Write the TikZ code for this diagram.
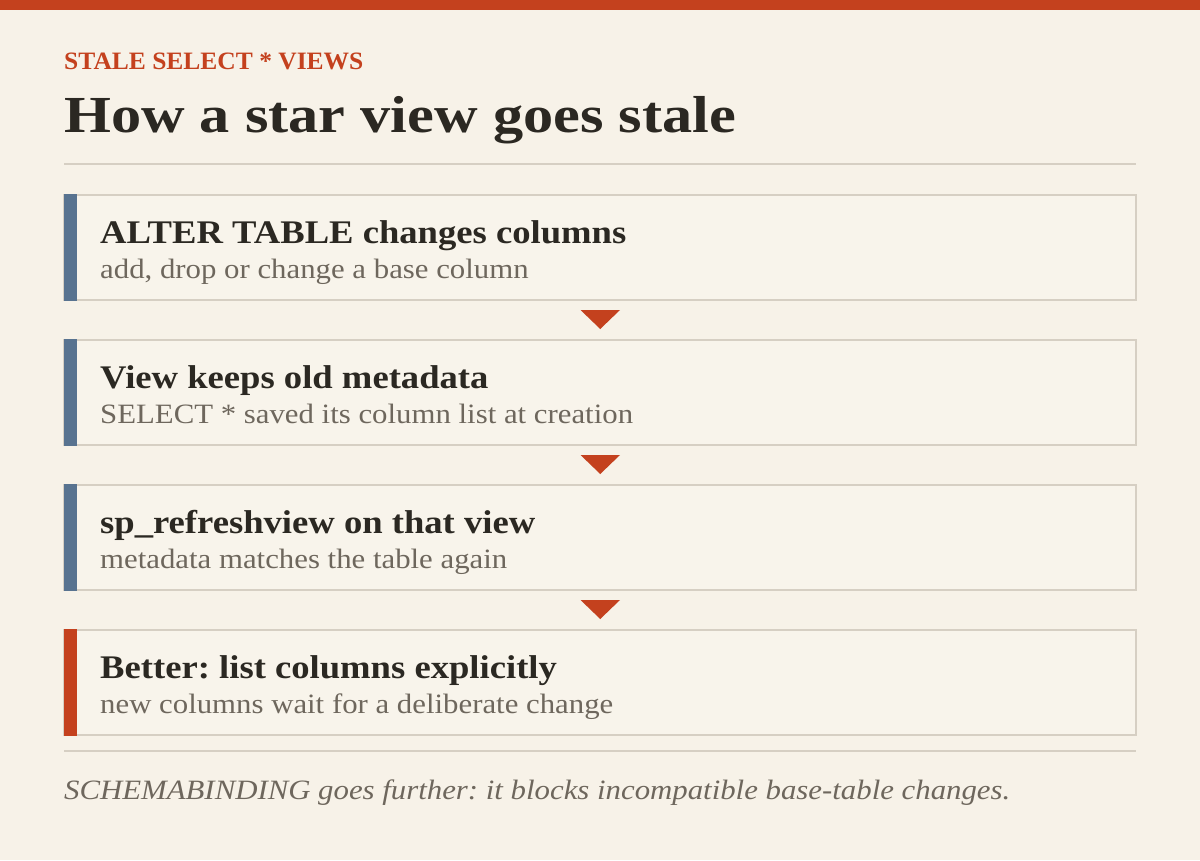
\documentclass[tikz,border=0pt]{standalone}
\usepackage{fontspec}
\setmainfont[FakeStretch=1.1]{Liberation Serif}
\newfontfamily\titlefont[FakeStretch=1.16]{Liberation Serif}
\newfontfamily\kickerfont[FakeStretch=1.02]{Liberation Serif}
\newfontfamily\stepfont[FakeStretch=1.11]{Liberation Serif}
\frenchspacing
\definecolor{bg}{HTML}{F7F2E8}
\definecolor{boxfill}{HTML}{F8F4EB}
\definecolor{accred}{HTML}{C4411E}
\definecolor{accblue}{HTML}{587390}
\definecolor{ink}{HTML}{2B2822}
\definecolor{muted}{HTML}{6E675D}
\definecolor{rulec}{HTML}{D6CFC3}
\tikzset{
  stepbox/.style={draw=rulec, line width=2pt, fill=boxfill},
  steptitle/.style={anchor=base west, inner sep=0pt, text=ink, font=\stepfont\fontsize{33}{36}\selectfont\bfseries},
  stepsub/.style={anchor=base west, inner sep=0pt, text=muted, font=\fontsize{28}{32}\selectfont},
  tri/.style={fill=accred, draw=none},
}
\begin{document}
\begin{tikzpicture}[x=1pt,y=-1pt]
\useasboundingbox (0,0) rectangle (1200,860);
\fill[bg] (0,0) rectangle (1200,860);
\fill[accred] (0,0) rectangle (1200,10);
\node[anchor=base west, inner sep=0pt, text=accred, font=\kickerfont\fontsize{25}{28}\selectfont\bfseries] (kicker) at (64,69) {STALE SELECT * VIEWS};
\node[anchor=base west, inner sep=0pt, text=ink, font=\titlefont\fontsize{52}{56}\selectfont\bfseries] (title) at (64,132) {How a star view goes stale};
\draw[rulec, line width=2pt] (64,164) -- (1136,164);
\foreach \i/\y/\c/\t/\s in {
  1/195/accblue/{ALTER TABLE changes columns}/{add, drop or change a base column},
  2/340/accblue/{View keeps old metadata}/{SELECT * saved its column list at creation},
  3/485/accblue/{sp\_refreshview on that view}/{metadata matches the table again},
  4/630/accred/{Better: list columns explicitly}/{new columns wait for a deliberate change}}{
  \draw[stepbox] (64,\y) rectangle (1136,\y+105);
  \fill[\c] (64,\y-1) rectangle (77,\y+106);
  \node[steptitle] (t\i) at (100,\y+48) {\t};
  \node[stepsub] (s\i) at (100,\y+83) {\s};
}
\foreach \y in {310,455,600}{
  \fill[tri] (580.5,\y) -- (620,\y) -- (600.25,\y+19) -- cycle;
}
\draw[rulec, line width=2pt] (64,751) -- (1136,751);
\node[anchor=base west, inner sep=0pt, text=muted, font=\fontsize{28}{32}\selectfont\itshape] (foot) at (64,799) {SCHEMABINDING goes further: it blocks incompatible base-table changes.};
\end{tikzpicture}
\end{document}
